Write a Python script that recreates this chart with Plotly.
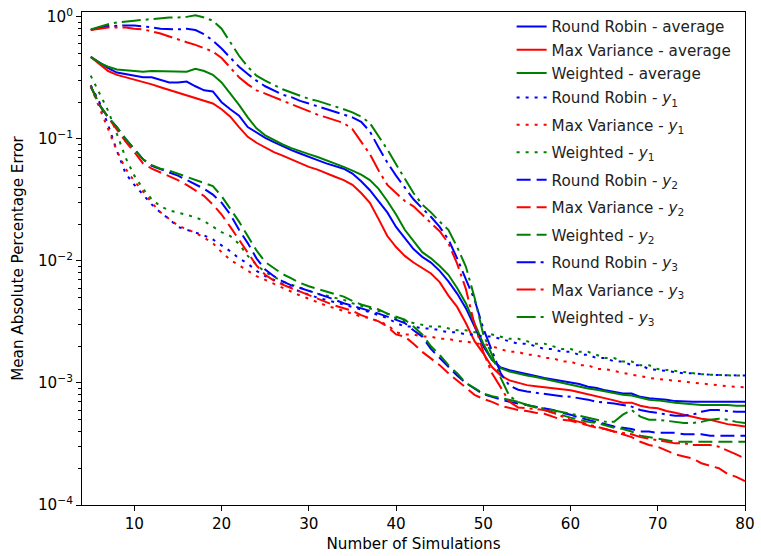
import plotly.graph_objects as go

# Number of simulations (sample grid)
x = list(range(5, 81))

rr_avg = [0.47, 0.42, 0.38, 0.35, 0.34, 0.33, 0.32, 0.32, 0.305, 0.29,
          0.29, 0.295, 0.27, 0.25, 0.245, 0.2, 0.175, 0.155, 0.125, 0.112,
          0.102, 0.094, 0.087, 0.081, 0.076, 0.071, 0.067, 0.063, 0.06, 0.057,
          0.052, 0.045, 0.038, 0.031, 0.025, 0.019, 0.0155, 0.0125, 0.0108, 0.0097,
          0.0083, 0.0068, 0.0054, 0.0041, 0.0029, 0.002, 0.00155, 0.00134, 0.00127, 0.00122,
          0.00118, 0.00114, 0.0011, 0.00107, 0.00104, 0.00101, 0.00098, 0.00093, 0.00091, 0.00087,
          0.00084, 0.00082, 0.00082, 0.00077, 0.00075, 0.00074, 0.00073, 0.00071, 0.0007, 0.0007,
          0.0007, 0.0007, 0.0007, 0.00071, 0.0007, 0.0007]

mv_avg = [0.47, 0.41, 0.36, 0.335, 0.32, 0.31, 0.295, 0.28, 0.265, 0.252,
          0.24, 0.225, 0.215, 0.205, 0.195, 0.175, 0.152, 0.125, 0.104, 0.093,
          0.085, 0.078, 0.073, 0.068, 0.063, 0.059, 0.056, 0.052, 0.049, 0.046,
          0.042, 0.036, 0.03, 0.022, 0.016, 0.013, 0.011, 0.0097, 0.0087, 0.0079,
          0.0067, 0.0052, 0.0042, 0.0031, 0.0022, 0.00175, 0.00135, 0.00115, 0.00105, 0.001,
          0.00096, 0.00094, 0.00092, 0.00091, 0.00089, 0.00087, 0.00084, 0.00081, 0.00078, 0.00075,
          0.00072, 0.00069, 0.00069, 0.00065, 0.00063, 0.00062, 0.00059, 0.00057, 0.00055, 0.00053,
          0.00051, 0.0005, 0.00048, 0.00046, 0.00045, 0.00044]

w_avg = [0.47, 0.42, 0.39, 0.37, 0.365, 0.36, 0.355, 0.36, 0.36, 0.36,
         0.36, 0.355, 0.375, 0.36, 0.335, 0.29, 0.235, 0.19, 0.15, 0.122,
         0.107, 0.098, 0.09, 0.084, 0.079, 0.075, 0.071, 0.067, 0.063, 0.059,
         0.055, 0.051, 0.046, 0.039, 0.031, 0.024, 0.018, 0.0145, 0.0118, 0.0105,
         0.0091, 0.0077, 0.006, 0.0045, 0.0031, 0.0021, 0.00155, 0.00132, 0.00124, 0.00119,
         0.00115, 0.00112, 0.00108, 0.00104, 0.001, 0.00097, 0.00094, 0.0009, 0.00088, 0.00085,
         0.00082, 0.0008, 0.00079, 0.00076, 0.00073, 0.00072, 0.0007, 0.00069, 0.00068, 0.00067,
         0.00066, 0.00066, 0.00066, 0.00066, 0.00065, 0.00065]

rr_y1 = [0.275, 0.2, 0.13, 0.08, 0.052, 0.042, 0.035, 0.029, 0.025, 0.022,
         0.019, 0.018, 0.017, 0.0162, 0.015, 0.0135, 0.012, 0.0105, 0.0095, 0.0083,
         0.0075, 0.007, 0.0065, 0.006, 0.0056, 0.0053, 0.005, 0.0048, 0.0046, 0.0044,
         0.0042, 0.004, 0.0038, 0.0036, 0.0034, 0.0031, 0.0029, 0.0029, 0.0028, 0.0028,
         0.0027, 0.0026, 0.0026, 0.0025, 0.0025, 0.0024, 0.0024, 0.0023, 0.0022, 0.0021,
         0.0021, 0.002, 0.0019, 0.0019, 0.0018, 0.0018, 0.0017, 0.0017, 0.0016, 0.0016,
         0.0015, 0.0015, 0.0014, 0.0014, 0.0013, 0.00128, 0.00125, 0.00123, 0.0012, 0.0012,
         0.00118, 0.00117, 0.00116, 0.00116, 0.00115, 0.00115]

mv_y1 = [0.27, 0.18, 0.12, 0.08, 0.057, 0.045, 0.037, 0.03, 0.025, 0.022,
         0.0195, 0.0182, 0.017, 0.0155, 0.014, 0.0118, 0.0102, 0.0092, 0.0083, 0.0075,
         0.007, 0.0065, 0.006, 0.0056, 0.0052, 0.0049, 0.0046, 0.0043, 0.0041, 0.0039,
         0.0037, 0.0035, 0.0034, 0.0032, 0.003, 0.0026, 0.0025, 0.0025, 0.0024, 0.0024,
         0.0023, 0.0023, 0.0022, 0.0022, 0.0021, 0.0021, 0.002, 0.0019, 0.0018, 0.0018,
         0.0017, 0.0017, 0.0016, 0.0016, 0.0015, 0.0015, 0.0014, 0.0014, 0.0013, 0.0013,
         0.00125, 0.0012, 0.00117, 0.00114, 0.0011, 0.00108, 0.00106, 0.00104, 0.00102, 0.001,
         0.00099, 0.00097, 0.00095, 0.00094, 0.00093, 0.00092]

w_y1 = [0.33, 0.24, 0.17, 0.11, 0.07, 0.05, 0.039, 0.032, 0.028, 0.026,
        0.025, 0.0237, 0.0228, 0.0212, 0.019, 0.0172, 0.016, 0.0138, 0.011, 0.0093,
        0.0081, 0.0074, 0.0068, 0.0064, 0.006, 0.0057, 0.0054, 0.0052, 0.005, 0.0048,
        0.0045, 0.0043, 0.0041, 0.0039, 0.0037, 0.0034, 0.0032, 0.0031, 0.003, 0.0029,
        0.0029, 0.0028, 0.0027, 0.0027, 0.0026, 0.0026, 0.0025, 0.0024, 0.0023, 0.0023,
        0.0022, 0.0021, 0.0021, 0.002, 0.0019, 0.0019, 0.0018, 0.0018, 0.0017, 0.0016,
        0.0016, 0.0015, 0.0015, 0.0014, 0.0014, 0.0013, 0.00128, 0.00125, 0.00122, 0.0012,
        0.00118, 0.00117, 0.00116, 0.00116, 0.00115, 0.00115]

rr_y2 = [0.27, 0.19, 0.15, 0.125, 0.1, 0.082, 0.068, 0.06, 0.056, 0.053,
         0.05, 0.046, 0.042, 0.039, 0.035, 0.03, 0.024, 0.018, 0.014, 0.0105,
         0.0085, 0.0075, 0.0068, 0.0063, 0.006, 0.0057, 0.0054, 0.0051, 0.0048, 0.0045,
         0.0043, 0.0041, 0.0039, 0.0037, 0.0035, 0.0033, 0.0031, 0.0027, 0.0024, 0.0019,
         0.0016, 0.00135, 0.00115, 0.001, 0.0009, 0.00081, 0.00077, 0.00073, 0.0007, 0.00068,
         0.00066, 0.00064, 0.00062, 0.0006, 0.00057, 0.00055, 0.00052, 0.0005, 0.00048, 0.00046,
         0.00044, 0.00043, 0.00042, 0.0004, 0.0004, 0.00039, 0.00039, 0.00039, 0.00038, 0.00038,
         0.00038, 0.00037, 0.00037, 0.00037, 0.00037, 0.00037]

mv_y2 = [0.27, 0.19, 0.15, 0.12, 0.095, 0.078, 0.063, 0.057, 0.053, 0.05,
         0.046, 0.042, 0.038, 0.034, 0.029, 0.024, 0.019, 0.0148, 0.0118, 0.0092,
         0.0077, 0.0069, 0.0064, 0.006, 0.0056, 0.0052, 0.0049, 0.0046, 0.0043, 0.0041,
         0.0039, 0.0036, 0.0034, 0.0032, 0.0029, 0.0025, 0.0024, 0.0021, 0.0018, 0.0016,
         0.0014, 0.0012, 0.00105, 0.00092, 0.0008, 0.00074, 0.0007, 0.00065, 0.00062, 0.0006,
         0.00059, 0.00057, 0.00056, 0.00053, 0.0005, 0.00049, 0.00047, 0.00045, 0.00043, 0.00042,
         0.0004, 0.00038, 0.00036, 0.00033, 0.00031, 0.0003, 0.00028, 0.00026, 0.00025, 0.00024,
         0.00022, 0.00021, 0.0002, 0.00018, 0.00017, 0.000157]

w_y2 = [0.27, 0.19, 0.15, 0.125, 0.1, 0.082, 0.068, 0.061, 0.057, 0.055,
        0.052, 0.049, 0.046, 0.044, 0.041, 0.034, 0.027, 0.021, 0.016, 0.0122,
        0.0098, 0.0087, 0.0078, 0.0072, 0.0066, 0.0062, 0.0059, 0.0056, 0.0053, 0.0051,
        0.0047, 0.0044, 0.0042, 0.004, 0.0037, 0.0035, 0.0033, 0.0029, 0.0025, 0.002,
        0.0017, 0.0014, 0.0012, 0.001, 0.0009, 0.00082, 0.00078, 0.00075, 0.00073, 0.0007,
        0.00066, 0.00063, 0.0006, 0.00057, 0.00054, 0.00052, 0.0005, 0.00048, 0.00047, 0.00045,
        0.00043, 0.00042, 0.0004, 0.00037, 0.00036, 0.00035, 0.00034, 0.00033, 0.00033, 0.00033,
        0.00033, 0.00033, 0.00033, 0.00033, 0.00033, 0.00033]

rr_y3 = [0.78, 0.82, 0.84, 0.85, 0.85, 0.85, 0.84, 0.82, 0.8, 0.79,
         0.79, 0.8, 0.78, 0.72, 0.64, 0.55, 0.46, 0.39, 0.34, 0.3,
         0.27, 0.25, 0.23, 0.22, 0.205, 0.195, 0.185, 0.175, 0.166, 0.158,
         0.15, 0.138, 0.115, 0.085, 0.064, 0.05, 0.04, 0.032, 0.027, 0.023,
         0.019, 0.015, 0.0105, 0.007, 0.0048, 0.0028, 0.0018, 0.0012, 0.00095, 0.00088,
         0.00085, 0.00083, 0.00081, 0.0008, 0.00078, 0.00077, 0.00075, 0.00073, 0.0007, 0.00069,
         0.00068, 0.00066, 0.00064, 0.0006, 0.00058, 0.00057, 0.00055, 0.00054, 0.00054, 0.00055,
         0.00058, 0.0006, 0.0006, 0.00059, 0.00058, 0.00058]

mv_y3 = [0.78, 0.8, 0.82, 0.82, 0.82, 0.8, 0.79, 0.76, 0.73, 0.69,
         0.65, 0.62, 0.59, 0.55, 0.52, 0.46, 0.38, 0.32, 0.28, 0.25,
         0.235, 0.22, 0.205, 0.193, 0.18, 0.168, 0.158, 0.15, 0.142, 0.135,
         0.12, 0.095, 0.075, 0.055, 0.042, 0.036, 0.031, 0.028, 0.024, 0.0205,
         0.0175, 0.014, 0.0095, 0.0059, 0.003, 0.0018, 0.0012, 0.00092, 0.0007, 0.00063,
         0.00062, 0.00061, 0.0006, 0.00057, 0.00053, 0.0005, 0.00048, 0.00046, 0.00044, 0.00042,
         0.0004, 0.00039, 0.00038, 0.00036, 0.00035, 0.00034, 0.00033, 0.00032, 0.00032, 0.00031,
         0.00031, 0.00031, 0.0003, 0.00028, 0.00026, 0.00024]

w_y3 = [0.79, 0.83, 0.87, 0.9, 0.92, 0.93, 0.945, 0.96, 0.98, 0.99,
        0.99, 1.0, 1.03, 0.99, 0.93, 0.8, 0.62, 0.48, 0.39, 0.33,
        0.3, 0.275, 0.255, 0.24, 0.225, 0.213, 0.205, 0.195, 0.185, 0.175,
        0.165, 0.152, 0.135, 0.105, 0.082, 0.062, 0.047, 0.036, 0.029, 0.025,
        0.021, 0.018, 0.013, 0.009, 0.005, 0.0025, 0.0017, 0.0011, 0.00078, 0.0007,
        0.00066, 0.00064, 0.00062, 0.0006, 0.00058, 0.00056, 0.00054, 0.00052, 0.0005, 0.00048,
        0.00048, 0.00055, 0.0006, 0.00053, 0.0005, 0.0005, 0.00049, 0.00048, 0.00047, 0.00047,
        0.00048, 0.0005, 0.00051, 0.0005, 0.00048, 0.00047]

names = ["Round Robin - average", "Max Variance - average", "Weighted - average",
         "Round Robin - <i>y</i><sub>1</sub>", "Max Variance - <i>y</i><sub>1</sub>", "Weighted - <i>y</i><sub>1</sub>",
         "Round Robin - <i>y</i><sub>2</sub>", "Max Variance - <i>y</i><sub>2</sub>", "Weighted - <i>y</i><sub>2</sub>",
         "Round Robin - <i>y</i><sub>3</sub>", "Max Variance - <i>y</i><sub>3</sub>", "Weighted - <i>y</i><sub>3</sub>"]
values = [rr_avg, mv_avg, w_avg, rr_y1, mv_y1, w_y1, rr_y2, mv_y2, w_y2, rr_y3, mv_y3, w_y3]

y_tickvals = [1e-4, 1e-3, 1e-2, 1e-1, 1]
y_ticktext = ["10<sup>\u22124</sup>", "10<sup>\u22123</sup>", "10<sup>\u22122</sup>",
              "10<sup>\u22121</sup>", "10<sup>0</sup>"]
x_tickvals = [10, 20, 30, 40, 50, 60, 70, 80]

colors = ["#0000ff", "#ff0000", "#008000"]
dashes = ["solid", "3px,6px", "14px,6px", "19px,5px,3px,5px"]

FS = 15.2
fig = go.Figure()
for i, (name, vals) in enumerate(zip(names, values)):
    fig.add_trace(go.Scatter(
        x=x, y=vals, mode="lines", name=name, legendgroup="g%d" % i,
        legend="legend" if i < 3 else "legend2",
        line=dict(color=colors[i % 3], width=2, dash=dashes[i // 3]),
    ))

minor_vals = [m * 10.0 ** k for k in range(-4, 0) for m in range(2, 10)]

legend_common = dict(xanchor="left", yanchor="top", bgcolor="rgba(255,255,255,0)",
                     borderwidth=0, traceorder="grouped",
                     font=dict(family="DejaVu Sans", size=FS, color="#222222"))

fig.update_layout(
    width=761, height=556,
    margin=dict(l=82, r=9, t=6, b=50),
    paper_bgcolor="white", plot_bgcolor="white",
    font=dict(family="DejaVu Sans", size=FS, color="black"),
    showlegend=True,
    legend=dict(x=0.648, y=1.004, tracegroupgap=0.5, **legend_common),
    legend2=dict(x=0.648, y=0.86, tracegroupgap=4.7, **legend_common),
    xaxis=dict(range=[4, 80], tickvals=x_tickvals, ticks="outside", ticklen=5,
               tickwidth=1, tickcolor="black", showline=True, linecolor="black",
               linewidth=1, mirror=True, showgrid=False, zeroline=False,
               tickfont=dict(size=FS), ticklabeloverflow="allow",
               title=dict(text="Number of Simulations", standoff=6,
                          font=dict(size=FS))),
    yaxis=dict(type="log", range=[-4, 0.04], tickvals=y_tickvals, ticktext=y_ticktext,
               ticks="outside", ticklen=5, tickwidth=1, tickcolor="black",
               minor=dict(tickvals=minor_vals, ticks="outside", ticklen=3,
                          tickwidth=1, tickcolor="black", showgrid=False),
               showline=True, linecolor="black", linewidth=1, mirror=True,
               showgrid=False, zeroline=False, tickfont=dict(size=FS),
               ticklabeloverflow="allow",
               title=dict(text="Mean Absolute Percentage Error", standoff=10,
                          font=dict(size=FS))),
)

fig.write_html("out.html")
